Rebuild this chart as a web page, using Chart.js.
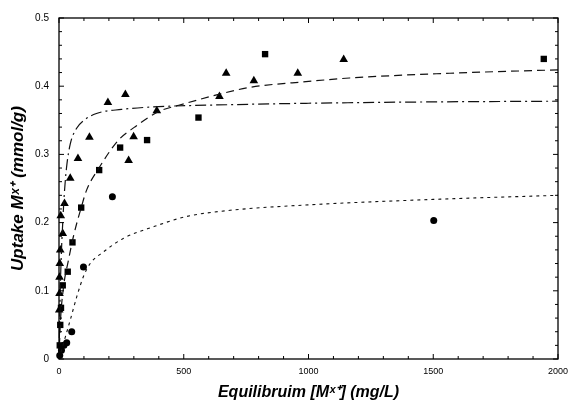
<!DOCTYPE html>
<html>
<head>
<meta charset="utf-8">
<script src="https://cdn.jsdelivr.net/npm/chart.js@4.4.1/dist/chart.umd.min.js"></script>
<style>
  html, body { margin: 0; padding: 0; background: #fff; }
  #wrap { width: 569px; height: 404px; }
</style>
</head>
<body>
<div id="wrap"><canvas id="myChart" width="569" height="404"></canvas></div>
<script>
// measured points (equilibrium concentration, uptake)
const triX = [1, 2, 2, 3, 5, 15, 7, 22, 45, 76, 122, 196, 266, 279, 299, 392, 643, 670, 781, 957, 1141];
const triY = [0.072, 0.096, 0.12, 0.14, 0.16, 0.184, 0.21, 0.228, 0.265, 0.294, 0.325, 0.376, 0.388, 0.291, 0.326, 0.364, 0.385, 0.419, 0.408, 0.419, 0.439];

const sqX = [3, 5, 8, 15, 35, 54, 89, 161, 245, 353, 559, 826, 1943];
const sqY = [0.02, 0.05, 0.075, 0.108, 0.128, 0.171, 0.222, 0.277, 0.310, 0.321, 0.354, 0.447, 0.440];

const circX = [3, 10, 20, 31, 51, 98, 214, 1502];
const circY = [0.005, 0.013, 0.02, 0.024, 0.040, 0.135, 0.238, 0.203];

// fitted curves
const dashDotX = [0, 5, 10, 15, 20, 30, 45, 70, 100, 150, 250, 400, 700, 1000, 1500, 2000];
const dashDotY = [0, 0.10, 0.16, 0.20, 0.235, 0.28, 0.315, 0.338, 0.35, 0.36, 0.366, 0.37, 0.373, 0.375, 0.377, 0.378];

const dashX = [0, 5, 18, 38, 58, 89, 111, 160, 236, 303, 400, 480, 640, 760, 1000, 1164, 1566, 2000];
const dashY = [0, 0.05, 0.105, 0.145, 0.18, 0.222, 0.248, 0.28, 0.32, 0.34, 0.363, 0.372, 0.388, 0.398, 0.407, 0.412, 0.419, 0.424];

const dotX = [0, 18, 45, 71, 98, 125, 178, 259, 379, 512, 686, 1000, 1500, 2000];
const dotY = [0, 0.023, 0.057, 0.091, 0.121, 0.14, 0.157, 0.177, 0.194, 0.209, 0.218, 0.226, 0.234, 0.240];

const xTicks = [0, 500, 1000, 1500, 2000];
const yTicks = [0, 0.1, 0.2, 0.3, 0.4, 0.5];

function pts(xs, ys) {
    return xs.map((x, i) => ({ x: x, y: ys[i] }));
}

// box around the plot with inward ticks
const frame = {
    id: 'frame',
    afterDraw(chart) {
        const ctx = chart.ctx;
        const a = chart.chartArea;
        const xs = chart.scales.x, ys = chart.scales.y;
        ctx.save();
        ctx.strokeStyle = '#000';
        ctx.lineWidth = 1.3;
        ctx.strokeRect(a.left, a.top, a.right - a.left, a.bottom - a.top);
        ctx.lineWidth = 1;
        ctx.beginPath();
        for (let v = 0; v <= 2000; v += 100) {
            const p = xs.getPixelForValue(v);
            const len = v % 500 === 0 ? 5 : 3;
            ctx.moveTo(p, a.bottom); ctx.lineTo(p, a.bottom - len);
            ctx.moveTo(p, a.top); ctx.lineTo(p, a.top + len);
        }
        for (let i = 0; i <= 25; i++) {
            const v = i * 0.02;
            const p = ys.getPixelForValue(v);
            const len = i % 5 === 0 ? 5 : 3;
            ctx.moveTo(a.left, p); ctx.lineTo(a.left + len, p);
            ctx.moveTo(a.right, p); ctx.lineTo(a.right - len, p);
        }
        ctx.stroke();
        ctx.restore();
    }
};

const ctx1 = document.getElementById('myChart').getContext('2d');
new Chart(ctx1, {
    type: 'scatter',
    data: {
        datasets: [{
            label: 'fit 1',
            data: pts(dashDotX, dashDotY),
            showLine: true,
            pointRadius: 0,
            borderColor: '#111',
            borderWidth: 1.2,
            borderDash: [11, 4, 2, 4],
            cubicInterpolationMode: 'monotone'
        },
        {
            label: 'fit 2',
            data: pts(dashX, dashY),
            showLine: true,
            pointRadius: 0,
            borderColor: '#111',
            borderWidth: 1.2,
            borderDash: [8, 5],
            cubicInterpolationMode: 'monotone'
        },
        {
            label: 'fit 3',
            data: pts(dotX, dotY),
            showLine: true,
            pointRadius: 0,
            borderColor: '#111',
            borderWidth: 1.1,
            borderDash: [3, 4],
            cubicInterpolationMode: 'monotone'
        },
        {
            label: 'triangles',
            data: pts(triX, triY),
            pointStyle: 'triangle',
            pointRadius: 5,
            backgroundColor: '#000',
            borderColor: '#000',
            borderWidth: 0
        },
        {
            label: 'squares',
            data: pts(sqX, sqY),
            pointStyle: 'rect',
            pointRadius: 4.5,
            backgroundColor: '#000',
            borderColor: '#000',
            borderWidth: 0
        },
        {
            label: 'circles',
            data: pts(circX, circY),
            pointStyle: 'circle',
            pointRadius: 3.5,
            backgroundColor: '#000',
            borderColor: '#000',
            borderWidth: 0
        }]
    },
    options: {
        responsive: false,
        animation: false,
        clip: false,
        layout: { padding: { top: 18, right: 11, left: 0, bottom: 0 } },
        plugins: {
            legend: { display: false },
            tooltip: { enabled: false }
        },
        scales: {
            x: {
                type: 'linear',
                min: 0,
                max: 2000,
                afterFit: (s) => { s.height = 45; s.paddingLeft = 0; s.paddingRight = 0; },
                afterBuildTicks: (s) => { s.ticks = xTicks.map(v => ({ value: v })); },
                grid: { display: false, drawTicks: false },
                border: { display: false },
                ticks: {
                    color: '#000',
                    padding: 7,
                    maxRotation: 0,
                    font: { family: 'Liberation Sans', size: 9 },
                    callback: (v) => String(v)
                },
                title: {
                    display: true,
                    text: 'Equilibruim [Mˣ⁺] (mg/L)',
                    color: '#000',
                    padding: { top: 0, bottom: 2 },
                    font: { family: 'Liberation Sans', size: 16, weight: 'bold', style: 'italic' }
                }
            },
            y: {
                min: 0,
                max: 0.5,
                afterFit: (s) => { s.width = 59; s.paddingTop = 0; s.paddingBottom = 0; },
                afterBuildTicks: (s) => { s.ticks = yTicks.map(v => ({ value: v })); },
                grid: { display: false, drawTicks: false },
                border: { display: false },
                ticks: {
                    color: '#000',
                    padding: 10,
                    font: { family: 'Liberation Sans', size: 10 },
                    callback: (v) => v === 0 ? '0' : v.toFixed(1)
                },
                title: {
                    display: true,
                    text: 'Uptake Mˣ⁺ (mmol/g)',
                    color: '#000',
                    padding: { top: 8, bottom: 0 },
                    font: { family: 'Liberation Sans', size: 17, weight: 'bold', style: 'italic' }
                }
            }
        }
    },
    plugins: [frame]
});
</script>
</body>
</html>
